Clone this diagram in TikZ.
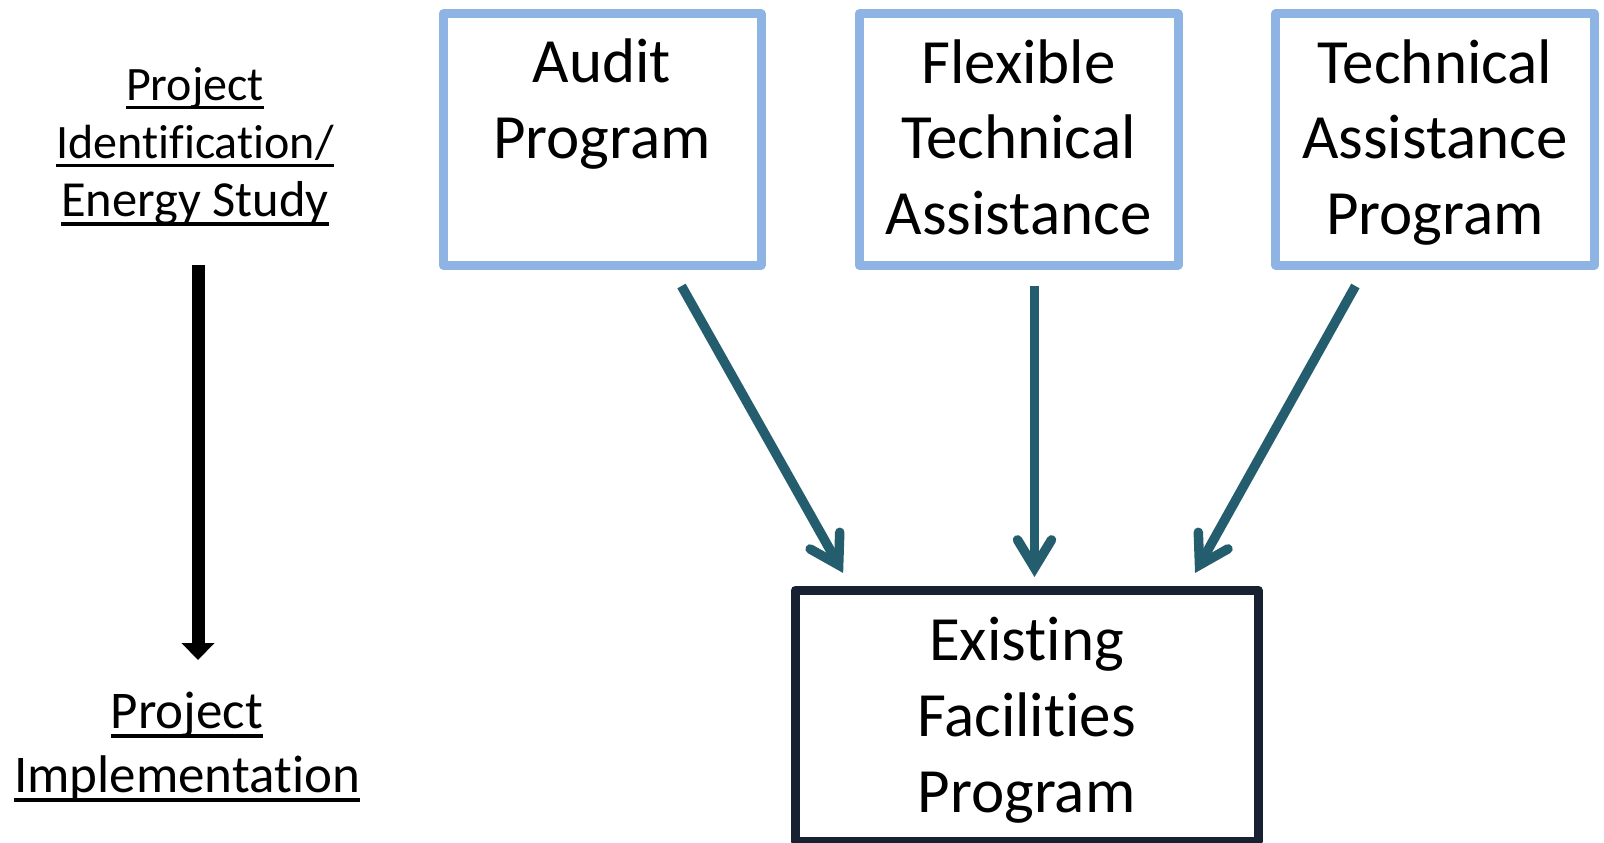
\documentclass[tikz,border=0pt]{standalone}
\usepackage{fontspec}
\setmainfont{Carlito}[Ligatures=NoCommon]
\usetikzlibrary{arrows.meta,calc}
\definecolor{boxblue}{HTML}{8EB4E3}
\definecolor{arrteal}{HTML}{245E6E}
\definecolor{navyline}{HTML}{182131}
\newcommand\myul[1]{\setbox0\hbox{#1}\rlap{\rule[-0.19em]{\wd0}{0.07em}}\box0}
\tikzset{
  bluebox/.style={draw=boxblue, line width=9pt, line join=round, inner sep=0pt, outer sep=0pt, minimum height=251pt},
  navybox/.style={draw=navyline, line width=9pt, line join=round, inner sep=0pt, outer sep=0pt, minimum height=251pt},
  boxtext/.style={anchor=base, align=center, inner sep=0pt, font=\fontsize{63}{75.5}\selectfont},
  sidetext/.style={anchor=base, align=center, inner sep=0pt},
  tarr/.style={draw=arrteal, line width=9.5pt, -{Straight Barb[length=28pt, width=34pt, line cap=round, line join=miter]}},
  barr/.style={draw=black, line width=13pt, -{Triangle[length=17pt, width=33pt, line width=0pt]}}
}
\begin{document}
\begin{tikzpicture}[x=1pt, y=-1pt]
\useasboundingbox (0,0) rectangle (1604,843);
% boxes
\node[bluebox, minimum width=318pt] (audit) at (602,139.5) {};
\node[bluebox, minimum width=319pt] (flex) at (1018.5,139.5) {};
\node[bluebox, minimum width=318.5pt] (tech) at (1435,139.5) {};
\node[navybox, minimum width=463pt] (exist) at (1026.5,715.5) {};
% box texts (anchored at the baseline of the last line)
\node[boxtext] (auditt) at (602,158) {Audit\\Program};
\node[boxtext] (flext) at (1018.5,234) {Flexible\\Technical\\Assistance};
\node[boxtext] (techt) at (1435,234) {Technical\\Assistance\\Program};
\node[boxtext, font=\fontsize{63}{76}\selectfont] (existt) at (1026.5,812) {Existing\\Facilities\\Program};
% side texts
\node[sidetext, font=\fontsize{48}{58}\selectfont] (ident) at (195,216) {\myul{Project}\\\myul{Identification/}\\\fontsize{50.5}{58}\selectfont\myul{Energy Study}};
\node[sidetext, font=\fontsize{53}{64}\selectfont] (impl) at (187,792) {\myul{Project}\\\myul{Implementation}};
% connectors
\draw[tarr] ($(audit.south west)!0.75!(audit.south east)+(0,21)$) -- ($(exist.north west)!0.104!(exist.north east)+(0,-17)$);
\draw[tarr] ($(flex.south)+(16,21)$) -- ($(exist.north)+(8,-13)$);
\draw[tarr] ($(tech.south west)!0.25!(tech.south east)+(0,21)$) -- ($(exist.north west)!0.864!(exist.north east)+(0,-17)$);
\draw[barr] ($(ident.base)+(3,49)$) -- ($(impl.base)+(11,-132)$);
\end{tikzpicture}
\end{document}
